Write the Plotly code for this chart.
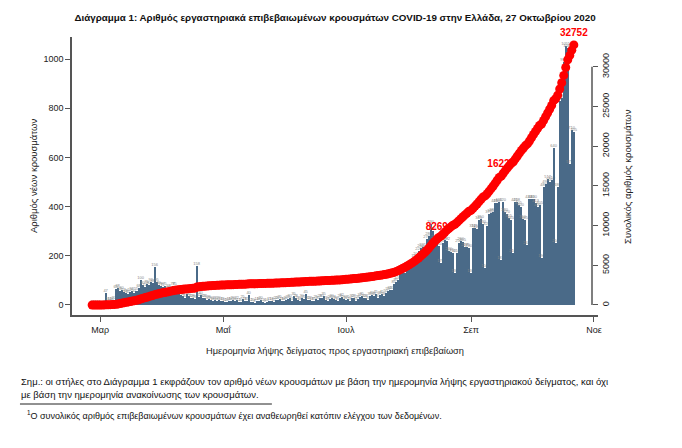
import numpy as np
import pandas as pd
import plotly.graph_objects as go

# Daily new cases by sampling date (bars), Feb 26 - Oct 22 2020
feb_new = [1, 1, 1, 1]
mar_new = [1, 0, 2, 47, 16, 14, 16, 20, 65, 68,
           55, 60, 52, 48, 45, 52, 58, 50, 55, 68,
           100, 80, 72, 85, 80, 92, 88, 156, 95, 80, 78]
apr_new = [72, 75, 62, 68, 60, 78, 75, 50, 45, 42,
           38, 30, 46, 35, 30, 28, 26, 158, 32, 40,
           30, 28, 22, 26, 20, 18, 22, 16, 20, 14]
may_new = [15, 12, 10, 18, 14, 20, 16, 22, 12, 10,
           25, 18, 15, 40, 12, 10, 8, 14, 16, 20,
           12, 9, 10, 15, 18, 12, 20, 22, 25, 18, 14]
jun_new = [20, 25, 30, 15, 35, 28, 22, 18, 30, 25,
           45, 20, 22, 18, 15, 25, 20, 28, 30, 35,
           22, 18, 26, 30, 24, 20, 15, 28, 32, 26]
jul_new = [22, 25, 18, 30, 28, 15, 26, 32, 35, 30,
           28, 20, 35, 40, 38, 45, 30, 40, 45, 38,
           50, 55, 62, 60, 85, 95, 100, 125, 130, 128, 150]
aug_new = [155, 165, 160, 190, 200, 220, 230, 235, 225, 270,
           280, 330, 300, 270, 265, 240, 170, 250, 265, 262,
           220, 215, 210, 130, 210, 250, 260, 255, 237, 235, 230]
sep_new = [130, 312, 315, 310, 345, 350, 330, 150, 320, 370,
           375, 380, 413, 415, 420, 183, 420, 380, 370, 355,
           345, 210, 420, 418, 405, 400, 350, 345, 244, 430]
oct_new = [430, 430, 413, 400, 405, 190, 480, 494, 512, 500,
           510, 640, 250, 480, 830, 840, 990, 1055, 1045, 575,
           710, 705]

# Cumulative total (red dots)
feb_total = [1, 1, 2, 3]
mar_total = [4, 6, 9, 20, 30, 40, 55, 75, 100, 140,
             190, 240, 290, 340, 390, 440, 490, 545, 600, 665,
             750, 830, 900, 975, 1050, 1125, 1200, 1300, 1360, 1420, 1480]
apr_total = [1530, 1580, 1630, 1680, 1740, 1800, 1850, 1890, 1925, 1955,
             1980, 2005, 2030, 2055, 2080, 2100, 2120, 2270, 2295, 2325,
             2350, 2375, 2395, 2415, 2435, 2450, 2465, 2480, 2495, 2505]
may_total = [2515, 2525, 2535, 2545, 2555, 2565, 2575, 2588, 2598, 2606,
             2614, 2625, 2635, 2660, 2668, 2675, 2680, 2688, 2697, 2707,
             2715, 2720, 2725, 2732, 2742, 2748, 2758, 2768, 2780, 2790, 2798]
jun_total = [2810, 2825, 2842, 2850, 2868, 2882, 2893, 2902, 2915, 2927,
             2957, 2967, 2977, 2985, 2992, 3004, 3013, 3027, 3043, 3062,
             3074, 3082, 3094, 3110, 3122, 3132, 3138, 3160, 3185, 3205]
jul_total = [3227, 3252, 3270, 3300, 3328, 3343, 3369, 3401, 3436, 3466,
             3494, 3514, 3549, 3589, 3627, 3672, 3702, 3742, 3787, 3825,
             3875, 3930, 3992, 4052, 4137, 4232, 4332, 4457, 4587, 4715, 4865]
aug_total = [5015, 5175, 5331, 5516, 5711, 5925, 6149, 6378, 6597, 6860,
             7133, 7454, 7746, 8009, 8269, 8502, 8667, 8910, 9167, 9421,
             9634, 9843, 10047, 10173, 10377, 10620, 10872, 11119, 11349, 11577, 11800]
sep_total = [11912, 12182, 12454, 12722, 13020, 13323, 13608, 13738, 14015, 14335,
             14659, 14988, 15345, 15704, 16067, 16227, 16592, 16923, 17245, 17554,
             17854, 18037, 18402, 18766, 19118, 19466, 19771, 20071, 20283, 20657]
oct_total = [21061, 21465, 21853, 22229, 22609, 22787, 23238, 23702, 24183, 24653,
             25132, 25733, 25968, 26419, 27198, 27987, 28917, 29908, 30889, 31429,
             32096, 32752]

month_ticks = ['2020-03-01', '2020-05-01', '2020-07-01', '2020-09-01', '2020-11-01']
month_labels = ['Μαρ', 'Μαΐ', 'Ιουλ', 'Σεπ', 'Νοε']
total_ticks = [0, 5000, 10000, 15000, 20000, 25000, 30000]
new_ticks = [0, 200, 400, 600, 800, 1000]
marked_dates = ['2020-08-15', '2020-09-16', '2020-10-22']

dates = pd.date_range('2020-02-26', '2020-10-22', freq='D')
new_cases = np.concatenate([feb_new, mar_new, apr_new, may_new, jun_new,
                            jul_new, aug_new, sep_new, oct_new])
total_cases = np.concatenate([feb_total, mar_total, apr_total, may_total, jun_total,
                              jul_total, aug_total, sep_total, oct_total])
assert len(dates) == len(new_cases) == len(total_cases)
total_text = [str(v) if d.strftime('%Y-%m-%d') in marked_dates else ''
              for d, v in zip(dates, total_cases)]

FONT = 'Liberation Sans, Arial, sans-serif'
AXIS = '#555555'
RIGHT_POS = 0.9886  # right axis sits a little inside the plot frame

# page body adds an 8px margin, so the figure is 8px smaller than the window
W, H = 674, 440
PLOT_TOP, PLOT_BOTTOM = 29, 307


def py(y_px):
    '''pixel row (figure coords) -> paper y'''
    return (PLOT_BOTTOM - y_px) / (PLOT_BOTTOM - PLOT_TOP)


fig = go.Figure()
fig.add_trace(go.Bar(x=dates, y=new_cases,
                     marker=dict(color='#4a6a88', line=dict(width=0)),
                     text=new_cases, textposition='outside',
                     constraintext='none',
                     textfont=dict(size=4, color='#888888'),
                     name='new'))
fig.add_trace(go.Scatter(x=dates, y=total_cases, yaxis='y2',
                         mode='markers+text',
                         marker=dict(size=9, color='#ff0000'),
                         text=total_text, textposition='top center',
                         textfont=dict(size=10, color='#ff0000', family=FONT, weight='bold'),
                         cliponaxis=False,
                         name='total'))

fig.update_layout(
    width=W, height=H,
    margin=dict(l=64, r=84, t=PLOT_TOP, b=H - PLOT_BOTTOM, autoexpand=False),
    paper_bgcolor='white', plot_bgcolor='rgba(0,0,0,0)',
    showlegend=False, bargap=0,
    font=dict(family=FONT, size=10, color='#222222'),
    title=dict(text='<b>Διάγραμμα 1: Αριθμός εργαστηριακά επιβεβαιωμένων κρουσμάτων COVID-19 στην Ελλάδα, 27 Οκτωβρίου 2020</b>',
               xref='paper', x=0.5, xanchor='center',
               yref='container', y=1 - 10 / H, yanchor='middle',
               font=dict(family=FONT, size=9.8, color='#111111')),
    xaxis=dict(type='date', range=['2020-02-16', '2020-11-03'],
               tickvals=month_ticks, ticktext=month_labels,
               ticks='outside', ticklen=5, tickcolor=AXIS,
               showline=True, linecolor=AXIS, linewidth=1.5,
               showgrid=False, zeroline=False, automargin=False,
               tickfont=dict(size=9, color='#222222')),
    yaxis=dict(range=[-41, 1090], tickvals=new_ticks,
               ticks='outside', ticklen=5, tickcolor=AXIS,
               showline=True, linecolor=AXIS, linewidth=1.5,
               showgrid=False, zeroline=False, automargin=False,
               tickfont=dict(size=9, color='#222222')),
    yaxis2=dict(overlaying='y', range=[-1260, 33750], tickvals=total_ticks,
                tickformat='d', anchor='free', position=RIGHT_POS, side='right',
                ticks='outside', ticklen=5, tickcolor=AXIS, tickangle=-90,
                showline=False, showgrid=False, zeroline=False, automargin=False,
                tickfont=dict(size=9, color='#222222')),
)

# right axis line only spans the labelled range, as in the original
fig.add_shape(type='line', xref='paper', yref='y2',
              x0=RIGHT_POS, x1=RIGHT_POS, y0=total_ticks[0], y1=total_ticks[-1],
              line=dict(color=AXIS, width=1.5))

fig.add_annotation(text='Ημερομηνία λήψης δείγματος προς εργαστηριακή επιβεβαίωση',
                   xref='paper', yref='paper', x=0.5, y=py(343),
                   xanchor='center', yanchor='middle', showarrow=False,
                   font=dict(size=9.25))
fig.add_annotation(text='Αριθμός νέων κρουσμάτων', xref='paper', yref='paper',
                   x=-0.0741, y=0.5, textangle=-90, showarrow=False,
                   xanchor='center', yanchor='middle', font=dict(size=9.5))
fig.add_annotation(text='Συνολικός αριθμός κρουσμάτων', xref='paper', yref='paper',
                   x=1.055, y=0.5, textangle=-90, showarrow=False,
                   xanchor='center', yanchor='middle', font=dict(size=9.5))
fig.add_annotation(text='Σημ.: οι στήλες στο Διάγραμμα 1 εκφράζουν τον αριθμό νέων κρουσμάτων με βάση την ημερομηνία λήψης εργαστηριακού δείγματος, και όχι',
                   xref='paper', yref='paper', x=-0.1, y=py(373),
                   xanchor='left', yanchor='middle', showarrow=False,
                   font=dict(size=9.5, color='#111111'))
fig.add_annotation(text='με βάση την ημερομηνία ανακοίνωσης των κρουσμάτων.',
                   xref='paper', yref='paper', x=-0.1, y=py(386),
                   xanchor='left', yanchor='middle', showarrow=False,
                   font=dict(size=9.5, color='#111111'))
fig.add_shape(type='line', xref='paper', yref='paper',
              x0=-0.0989, x1=0.380, y0=py(396), y1=py(396),
              line=dict(color='#222222', width=1))
fig.add_annotation(text='<sup>1</sup>Ο συνολικός αριθμός επιβεβαιωμένων κρουσμάτων έχει αναθεωρηθεί κατόπιν ελέγχου των δεδομένων.',
                   xref='paper', yref='paper', x=-0.09, y=py(407),
                   xanchor='left', yanchor='middle', showarrow=False,
                   font=dict(size=9, color='#111111'))

fig.write_html('out.html')
